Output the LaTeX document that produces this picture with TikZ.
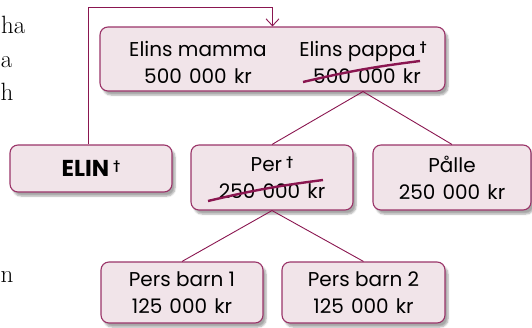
\documentclass[tikz,border=0pt]{standalone}
\usepackage{fontspec}
\usepackage{xcolor}
\usetikzlibrary{arrows.meta,shadows.blur}
\newfontfamily\boxfont{Poppins}
\definecolor{plum}{HTML}{9A3468}
\definecolor{plumdark}{HTML}{8A1650}
\definecolor{pinkfill}{HTML}{F1E4E9}
\newcommand{\dod}{\hspace{4pt}\raisebox{0.3em}{\fontsize{11}{11}\selectfont\bfseries †}}
\newcommand{\gap}{\hspace{0.36em}}
\tikzset{
	box/.style={draw=plum,line width=1.1pt,fill=pinkfill,rounded corners=8pt,
		blur shadow={shadow xshift=3pt,shadow yshift=-4pt,shadow opacity=35,shadow blur steps=6}},
	boxtext/.style={font=\boxfont\fontsize{20}{27}\selectfont,align=center,inner sep=0pt},
	link/.style={draw=plumdark,line width=0.9pt},
	strike/.style={draw=plumdark,line width=2.4pt},
	margintext/.style={anchor=base east,font=\fontsize{25}{25}\selectfont}
}

\begin{document}
\begin{tikzpicture}[x=1pt,y=-1pt]
	\useasboundingbox (0,0) rectangle (532,327);
	
	\node[margintext] at (29,33) {ha};
	\node[margintext] at (16,67) {a};
	\node[margintext] at (17,100) {h};
	\node[margintext] at (17,282) {n};
	
	\node[box,minimum width=345pt,minimum height=64pt] (parents) at (272.5,59) {};
	\node[boxtext] (mamma) at (198,62) {Elins mamma\\500\gap000\gap kr};
	\node[boxtext] (pappa) at (363,62) {Elins pappa\dod\\\hspace*{8pt}500\gap000\gap kr};
	\draw[strike] (303,82) to[bend left=3] (420,61);
	
	\node[box,minimum width=162pt,minimum height=47pt,font=\boxfont\bfseries\fontsize{23}{23}\selectfont] (elin) at (91,168.5) {ELIN\dod};
	
	\node[box,boxtext,minimum width=162pt,minimum height=65pt] (per) at (272,177.5) {Per\dod\\250\gap000\gap kr};
	\draw[strike] (208,201) to[bend left=3] (323,180);
	\node[box,boxtext,minimum width=158pt,minimum height=65pt] (palle) at (452,177.5) {Pålle\\250\gap000\gap kr};
	
	\node[box,boxtext,minimum width=162pt,minimum height=61pt] (barn1) at (182,292.5) {Pers barn 1\\125\gap000\gap kr};
	\node[box,boxtext,minimum width=163pt,minimum height=61pt] (barn2) at (363.5,292.5) {Pers barn 2\\125\gap000\gap kr};
	
	\coordinate (top) at (88,7);
	\draw[link,-{Straight Barb[length=7pt,width=13pt,line width=0.9pt]}] (elin.north -| top) -- (top) -- (top -| parents.north) -- (parents.north);
	\draw[link] (parents.south -| pappa) -- (per.north);
	\draw[link] (parents.south -| pappa) -- (palle.north);
	\draw[link] (per.south) -- (barn1.north);
	\draw[link] (per.south) -- (barn2.north);
\end{tikzpicture}
\end{document}
